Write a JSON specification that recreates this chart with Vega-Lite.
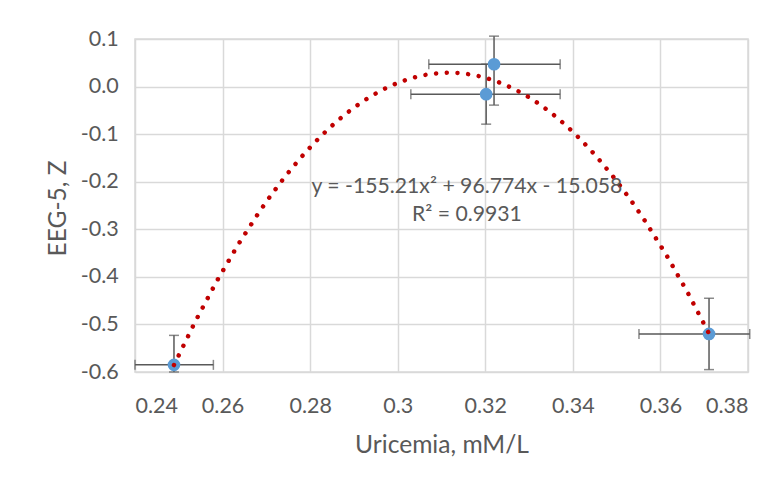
{
  "$schema": "https://vega.github.io/schema/vega-lite/v6.json",
  "autosize": "none",
  "width": 613,
  "height": 333,
  "padding": {"left": 135, "top": 39, "right": 24, "bottom": 112},
  "background": "white",
  "config": {
    "font": "Lato",
    "view": {"stroke": "#d9d9d9", "strokeWidth": 1.5},
    "locale": {"number": {"decimal": ".", "thousands": ",", "grouping": [3], "currency": ["$", ""], "minus": "-"}},
    "axis": {
      "grid": true, "gridColor": "#d9d9d9", "gridWidth": 1.5,
      "domain": false, "ticks": false, "tickSize": 0,
      "labelFont": "Lato", "labelFontSize": 21.5, "labelColor": "#595959",
      "titleFont": "Lato", "titleFontSize": 24.6, "titleColor": "#595959", "titleFontWeight": "normal"
    }
  },
  "datasets": {
    "pts": [
      {"x": 0.2489, "y": -0.585, "xmin": 0.2400, "xmax": 0.2579, "ymin": -0.600, "ymax": -0.523},
      {"x": 0.3202, "y": -0.016, "xmin": 0.3030, "xmax": 0.3371, "ymin": -0.079, "ymax": 0.047},
      {"x": 0.3220, "y": 0.047, "xmin": 0.3071, "xmax": 0.3371, "ymin": -0.039, "ymax": 0.106},
      {"x": 0.3711, "y": -0.520, "xmin": 0.3551, "xmax": 0.3804, "ymin": -0.595, "ymax": -0.445}
    ],
    "notes": [
      {"x": 0.3158, "y": -0.2116, "label": "y = -155.21x² + 96.774x - 15.058"},
      {"x": 0.3158, "y": -0.2705, "label": "R² = 0.9931"}
    ]
  },
  "encoding": {
    "x": {"type": "quantitative", "scale": {"domain": [0.24, 0.38], "nice": false, "zero": false},
      "axis": {"values": [0.24, 0.26, 0.28, 0.3, 0.32, 0.34, 0.36, 0.38], "format": "~g", "labelPadding": 40, "labelBaseline": "alphabetic", "titleBaseline": "alphabetic", "titleY": 80.7},
      "title": "Uricemia, mM/L"},
    "y": {"type": "quantitative", "scale": {"domain": [-0.6, 0.1], "nice": false, "zero": false},
      "axis": {"values": [-0.6, -0.5, -0.4, -0.3, -0.2, -0.1, 0, 0.1], "format": ".1f", "labelPadding": 16.7, "titleBaseline": "alphabetic", "titleX": -70, "titleY": 169},
      "title": "EEG-5, Z"}
  },
  "layer": [
    {
      "data": {"name": "pts"},
      "mark": {"type": "errorbar", "color": "#595959", "thickness": 1.5, "ticks": {"size": 10, "thickness": 1.5}},
      "encoding": {
        "x": {"field": "xmin", "type": "quantitative", "title": "Uricemia, mM/L"},
        "x2": {"field": "xmax"},
        "y": {"field": "y", "type": "quantitative", "title": "EEG-5, Z"}
      }
    },
    {
      "data": {"name": "pts"},
      "mark": {"type": "errorbar", "color": "#595959", "thickness": 1.5, "ticks": {"size": 10, "thickness": 1.5}},
      "encoding": {
        "y": {"field": "ymin", "type": "quantitative", "title": "EEG-5, Z"},
        "y2": {"field": "ymax"},
        "x": {"field": "x", "type": "quantitative", "title": "Uricemia, mM/L"}
      }
    },
    {
      "data": {"name": "pts"},
      "mark": {"type": "circle", "color": "#5B9BD5", "opacity": 1, "size": 160},
      "encoding": {
        "x": {"field": "x", "type": "quantitative", "title": "Uricemia, mM/L"},
        "y": {"field": "y", "type": "quantitative", "title": "EEG-5, Z"}
      }
    },
    {
      "data": {"name": "pts"},
      "transform": [{"regression": "y", "on": "x", "method": "poly", "order": 2, "extent": [0.2489, 0.3711]}],
      "mark": {"type": "line", "color": "#C00000", "strokeWidth": 4.5, "strokeCap": "round", "strokeDash": [0.01, 10.7], "clip": false},
      "encoding": {
        "x": {"field": "x", "type": "quantitative", "title": "Uricemia, mM/L"},
        "y": {"field": "y", "type": "quantitative", "title": "EEG-5, Z"}
      }
    },
    {
      "data": {"name": "notes"},
      "mark": {"type": "text", "font": "Lato", "fontSize": 21.2, "color": "#595959", "align": "center", "baseline": "middle"},
      "encoding": {
        "x": {"field": "x", "type": "quantitative", "title": "Uricemia, mM/L"},
        "y": {"field": "y", "type": "quantitative", "title": "EEG-5, Z"},
        "text": {"field": "label"}
      }
    }
  ]
}
